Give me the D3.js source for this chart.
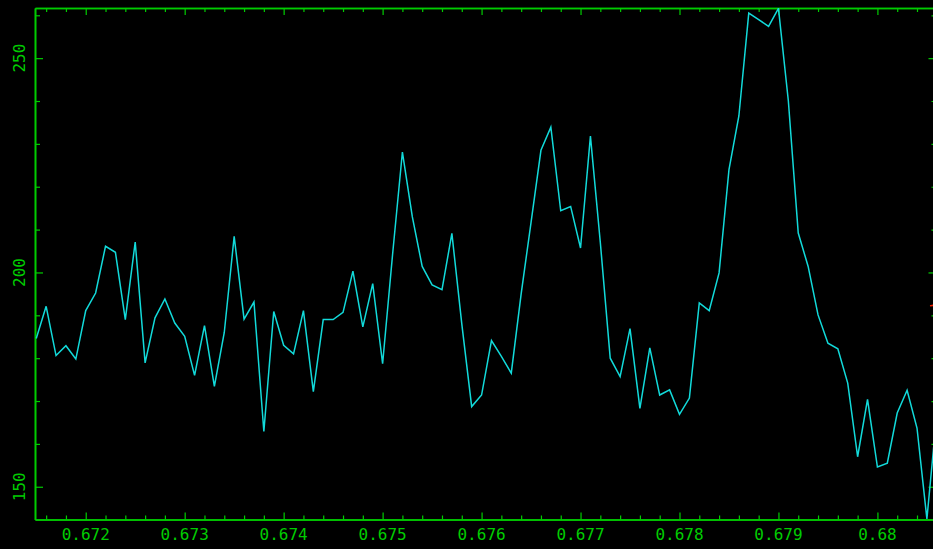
<!DOCTYPE html>
<html>
<head>
<meta charset="utf-8">
<script src="https://cdn.jsdelivr.net/npm/d3@7"></script>
<style>
  body { margin: 0; background: #000; }
  svg { display: block; background: #000; }
</style>
</head>
<body>
<svg id="chart" width="933" height="549"></svg>
<script>
// wavelength grid (one sample every 0.0001)
const wavelength = [
  0.6715, 0.6716, 0.6717, 0.6718, 0.6719, 0.6720, 0.6721, 0.6722, 0.6723, 0.6724,
  0.6725, 0.6726, 0.6727, 0.6728, 0.6729, 0.6730, 0.6731, 0.6732, 0.6733, 0.6734,
  0.6735, 0.6736, 0.6737, 0.6738, 0.6739, 0.6740, 0.6741, 0.6742, 0.6743, 0.6744,
  0.6745, 0.6746, 0.6747, 0.6748, 0.6749, 0.6750, 0.6751, 0.6752, 0.6753, 0.6754,
  0.6755, 0.6756, 0.6757, 0.6758, 0.6759, 0.6760, 0.6761, 0.6762, 0.6763, 0.6764,
  0.6765, 0.6766, 0.6767, 0.6768, 0.6769, 0.6770, 0.6771, 0.6772, 0.6773, 0.6774,
  0.6775, 0.6776, 0.6777, 0.6778, 0.6779, 0.6780, 0.6781, 0.6782, 0.6783, 0.6784,
  0.6785, 0.6786, 0.6787, 0.6788, 0.6789, 0.6790, 0.6791, 0.6792, 0.6793, 0.6794,
  0.6795, 0.6796, 0.6797, 0.6798, 0.6799, 0.6800, 0.6801, 0.6802, 0.6803, 0.6804,
  0.6805, 0.6806
]

// flux
const flux = [
  184.6, 192.1, 180.6, 182.9, 179.8, 191.1, 195.2, 206.1, 204.7, 189.0,
  207.1, 178.9, 189.4, 193.8, 188.2, 185.1, 176.0, 187.6, 173.4, 186.0,
  208.4, 189.1, 193.1, 162.9, 190.9, 183.0, 181.0, 191.1, 172.2, 189.0,
  189.0, 190.7, 200.3, 187.3, 197.4, 178.7, 204.0, 228.1, 213.0, 201.4,
  197.1, 196.0, 209.1, 188.0, 168.7, 171.4, 184.1, 180.4, 176.5, 195.0,
  211.7, 228.5, 233.9, 214.4, 215.4, 205.7, 231.8, 207.0, 180.0, 175.7,
  186.9, 168.3, 182.4, 171.4, 172.6, 166.9, 170.7, 192.9, 191.1, 199.9,
  224.0, 236.5, 260.5, 259.0, 257.4, 261.6, 240.0, 209.2, 201.4, 190.1,
  183.5, 182.2, 174.2, 157.0, 170.4, 154.6, 155.5, 167.2, 172.5, 163.7,
  142.5, 167.0
]

const xTicks = [0.672, 0.673, 0.674, 0.675, 0.676, 0.677, 0.678, 0.679, 0.680]
const xTickLabels = ['0.672', '0.673', '0.674', '0.675', '0.676', '0.677', '0.678', '0.679', '0.68']
const yTicks = [150, 200, 250]
const yTickLabels = ['150', '200', '250']
const markerLevel = [192.2]

const plotL = 35, plotR = 936.5, plotT = 8, plotB = 519.5

const x = d3.scaleLinear().domain([0.6714874, 0.6805970]).range([plotL, plotR])
const y = d3.scaleLinear().domain([142.36, 261.7]).range([plotB, plotT])

// minor ticks between the labelled ones
const xMinor = d3.range(0.6716, 0.6806, 0.0002).filter(v => !xTicks.some(t => Math.abs(t - v) < 1e-6))
const yMinor = d3.range(150, 262, 10).filter(v => !yTicks.includes(v))

const green = '#00cc00'
const svg = d3.select('#chart')

svg.append('defs').append('clipPath').attr('id', 'plot')
  .append('rect')
  .attr('x', plotL).attr('y', plotT)
  .attr('width', plotR - plotL).attr('height', plotB - plotT)

function styleAxis(g) {
  g.select('.domain').attr('stroke', green).attr('stroke-width', 1.6)
  g.selectAll('.tick line').attr('stroke', green).attr('stroke-width', 1.2)
  g.selectAll('.tick text').remove()
}

// bottom
svg.append('g').attr('transform', `translate(0,${plotB})`)
  .call(d3.axisBottom(x).tickValues(xTicks).tickSize(-7).tickSizeOuter(0))
  .call(styleAxis)
svg.append('g').attr('transform', `translate(0,${plotB})`)
  .call(d3.axisBottom(x).tickValues(xMinor).tickSize(-4).tickSizeOuter(0))
  .call(styleAxis)

// top
svg.append('g').attr('transform', `translate(0,${plotT})`)
  .call(d3.axisTop(x).tickValues(xTicks).tickSize(-7).tickSizeOuter(0))
  .call(styleAxis)
svg.append('g').attr('transform', `translate(0,${plotT})`)
  .call(d3.axisTop(x).tickValues(xMinor).tickSize(-4).tickSizeOuter(0))
  .call(styleAxis)

// left
svg.append('g').attr('transform', `translate(${plotL},0)`)
  .call(d3.axisLeft(y).tickValues(yTicks).tickSize(-8).tickSizeOuter(0))
  .call(styleAxis)
svg.append('g').attr('transform', `translate(${plotL},0)`)
  .call(d3.axisLeft(y).tickValues(yMinor).tickSize(-5).tickSizeOuter(0))
  .call(styleAxis)

// right (sits just past the window edge)
svg.append('g').attr('transform', `translate(${plotR},0)`)
  .call(d3.axisRight(y).tickValues(yTicks).tickSize(-8).tickSizeOuter(0))
  .call(styleAxis)
svg.append('g').attr('transform', `translate(${plotR},0)`)
  .call(d3.axisRight(y).tickValues(yMinor).tickSize(-5).tickSizeOuter(0))
  .call(styleAxis)

// tick labels
svg.append('g')
  .selectAll('text')
  .data(xTicks)
  .join('text')
  .attr('x', d => x(d))
  .attr('y', 539.5)
  .attr('text-anchor', 'middle')
  .attr('font-family', 'DejaVu Sans Mono, monospace')
  .attr('font-size', 16)
  .attr('fill', green)
  .text((d, i) => xTickLabels[i])

svg.append('g')
  .selectAll('text')
  .data(yTicks)
  .join('text')
  .attr('transform', d => `translate(25,${y(d)}) rotate(-90)`)
  .attr('text-anchor', 'middle')
  .attr('font-family', 'DejaVu Sans Mono, monospace')
  .attr('font-size', 16)
  .attr('fill', green)
  .text((d, i) => yTickLabels[i])

// spectrum
const line = d3.line()
  .x((d, i) => x(wavelength[i]))
  .y(d => y(d))

svg.append('path')
  .datum(flux)
  .attr('clip-path', 'url(#plot)')
  .attr('d', line)
  .attr('fill', 'none')
  .attr('stroke', '#12dada')
  .attr('stroke-width', 1.5)
  .attr('stroke-linejoin', 'miter')

// small red marker on the right edge
svg.append('g')
  .selectAll('line')
  .data(markerLevel)
  .join('line')
  .attr('x1', 930).attr('x2', 936)
  .attr('y1', d => y(d)).attr('y2', d => y(d) - 1)
  .attr('stroke', '#ff2000')
  .attr('stroke-width', 1.5)
</script>
</body>
</html>
